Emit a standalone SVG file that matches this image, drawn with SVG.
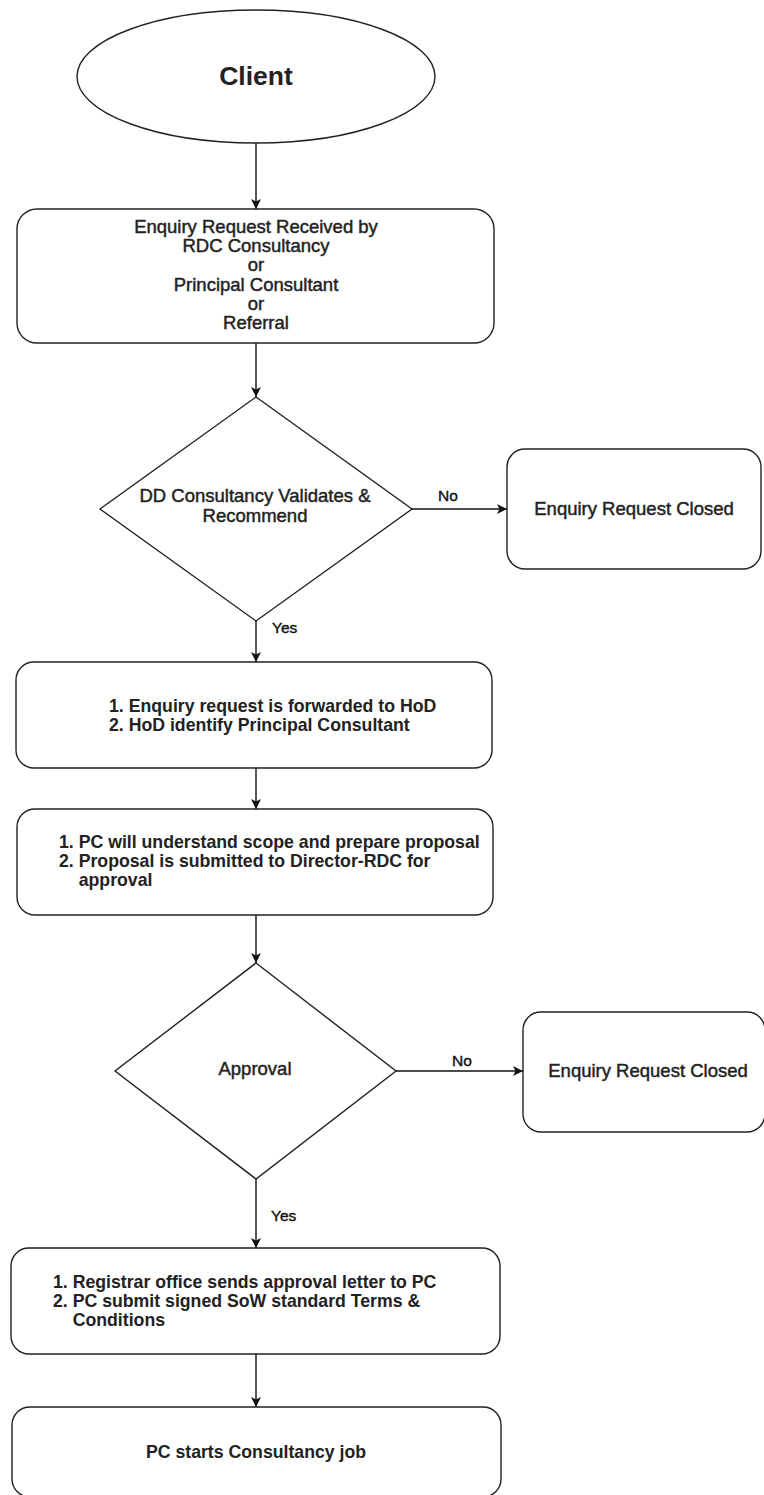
<svg xmlns="http://www.w3.org/2000/svg" width="764" height="1495" viewBox="0 0 764 1495">
<style>
.shape{fill:#fff;stroke:#222;stroke-width:1.4}
.edge{fill:none;stroke:#111;stroke-width:1.4}
.t{font-family:"Liberation Sans",Arial,sans-serif;font-size:18.5px;fill:#222;stroke:#222;stroke-width:0.45}
.b{font-family:"Liberation Sans",Arial,sans-serif;font-size:17.7px;font-weight:bold;fill:#222}
.c{text-anchor:middle}
.lbl{font-family:"Liberation Sans",Arial,sans-serif;font-size:15.5px;fill:#111;stroke:#111;stroke-width:0.4}
</style>
<defs>
<marker id="arr" viewBox="0 0 10 10" refX="10" refY="5" markerWidth="10" markerHeight="10" markerUnits="userSpaceOnUse" orient="auto">
<path d="M0,0 L10,5 L0,10 L2.5,5 z" fill="#111"/>
</marker>
</defs>
<rect width="764" height="1495" fill="#fff"/>
<g id="connectors">
<line class="edge" x1="256" y1="143" x2="256" y2="209" marker-end="url(#arr)"/>
<line class="edge" x1="256" y1="343" x2="256" y2="397" marker-end="url(#arr)"/>
<line class="edge" x1="412" y1="509" x2="507" y2="509" marker-end="url(#arr)"/>
<text class="lbl" x="438" y="501">No</text>
<line class="edge" x1="256" y1="621" x2="256" y2="662" marker-end="url(#arr)"/>
<text class="lbl" x="272" y="633">Yes</text>
<line class="edge" x1="256" y1="768" x2="256" y2="809" marker-end="url(#arr)"/>
<line class="edge" x1="256" y1="915" x2="256" y2="963" marker-end="url(#arr)"/>
<line class="edge" x1="396" y1="1071" x2="523" y2="1071" marker-end="url(#arr)"/>
<text class="lbl" x="452" y="1066">No</text>
<line class="edge" x1="256" y1="1179" x2="256" y2="1248" marker-end="url(#arr)"/>
<text class="lbl" x="271" y="1221">Yes</text>
<line class="edge" x1="256" y1="1354" x2="256" y2="1407" marker-end="url(#arr)"/>
</g>
<g id="client">
<ellipse class="shape" cx="256" cy="76.5" rx="179" ry="66.5"/>
<text class="b c" x="256" y="84.5" style="font-size:26.5px">Client</text>
</g>
<g id="enquiry-received">
<rect class="shape" x="17" y="209" width="477" height="134" rx="20"/>
<text class="t c" x="256" y="233">Enquiry Request Received by</text>
<text class="t c" x="256" y="252">RDC Consultancy</text>
<text class="t c" x="256" y="271">or</text>
<text class="t c" x="256" y="291">Principal Consultant</text>
<text class="t c" x="256" y="310">or</text>
<text class="t c" x="256" y="329">Referral</text>
</g>
<g id="validate">
<polygon class="shape" points="256,397 412,509 256,621 100,509"/>
<text class="t c" x="255" y="502">DD Consultancy Validates &amp;</text>
<text class="t c" x="255" y="521.5">Recommend</text>
</g>
<g id="closed-1">
<rect class="shape" x="507" y="449" width="254" height="120" rx="18"/>
<text class="t c" x="634" y="515">Enquiry Request Closed</text>
</g>
<g id="forward-hod">
<rect class="shape" x="16" y="662" width="476" height="106" rx="18"/>
<text class="b" x="109" y="712">1. Enquiry request is forwarded to HoD</text>
<text class="b" x="109" y="731">2. HoD identify Principal Consultant</text>
</g>
<g id="proposal">
<rect class="shape" x="17" y="809" width="476" height="106" rx="18"/>
<text class="b" x="59" y="848">1. PC will understand scope and prepare proposal</text>
<text class="b" x="59" y="867">2. Proposal is submitted to Director-RDC for</text>
<text class="b" x="78.7" y="886">approval</text>
</g>
<g id="approval">
<polygon class="shape" points="256,963 396,1071 256,1179 115,1071"/>
<text class="t c" x="255" y="1075">Approval</text>
</g>
<g id="closed-2">
<rect class="shape" x="523" y="1012" width="242" height="120" rx="18"/>
<text class="t c" x="648" y="1077">Enquiry Request Closed</text>
</g>
<g id="registrar">
<rect class="shape" x="11" y="1248" width="489" height="106" rx="18"/>
<text class="b" x="53" y="1288">1. Registrar office sends approval letter to PC</text>
<text class="b" x="53" y="1307">2. PC submit signed SoW standard Terms &amp;</text>
<text class="b" x="72.7" y="1326">Conditions</text>
</g>
<g id="start-job">
<rect class="shape" x="12" y="1407" width="489" height="90" rx="18"/>
<text class="b c" x="256" y="1458">PC starts Consultancy job</text>
</g>
</svg>
